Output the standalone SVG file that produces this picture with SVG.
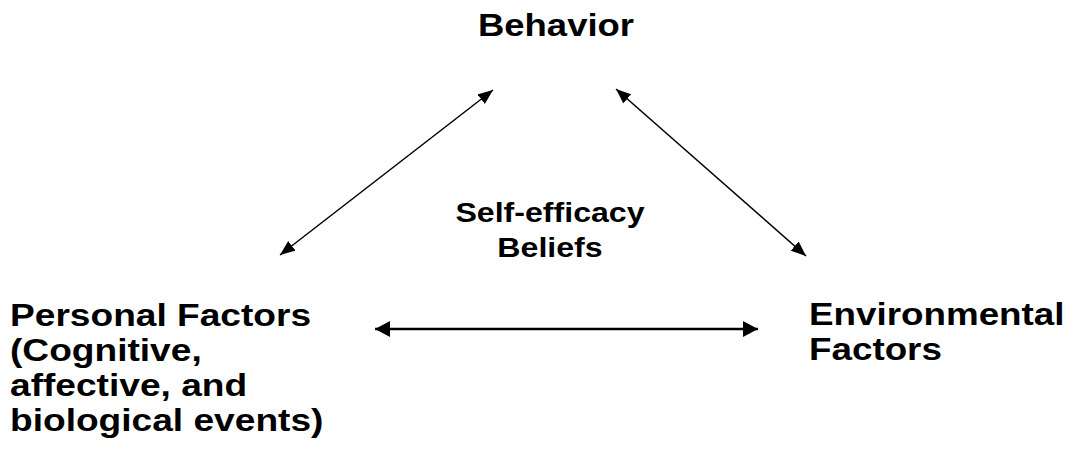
<svg xmlns="http://www.w3.org/2000/svg" width="1075" height="464" viewBox="0 0 1075 464">
<defs>
<style>
text{font-family:"Liberation Sans",Arial,sans-serif;font-weight:bold;fill:#000}
.big{font-size:32px}
.mid{font-size:27px}
.c{stroke:#000;fill:none}
</style>
<marker id="ah" markerUnits="userSpaceOnUse" markerWidth="16" markerHeight="13" refX="15" refY="6" orient="auto-start-reverse" viewBox="0 0 16 12">
<path d="M0,0 L15,6 L0,12 z" fill="#000"/>
</marker>
<marker id="ah2" markerUnits="userSpaceOnUse" markerWidth="16" markerHeight="17" refX="15" refY="8" orient="auto-start-reverse" viewBox="0 0 16 16">
<path d="M0,0 L15,8 L0,16 z" fill="#000"/>
</marker>
</defs>
<rect width="1075" height="464" fill="#fff"/>
<g id="connectors">
<line class="c" x1="493" y1="90" x2="280" y2="255" stroke-width="1.5" marker-start="url(#ah)" marker-end="url(#ah)"/>
<line class="c" x1="616" y1="89" x2="806" y2="256" stroke-width="1.5" marker-start="url(#ah)" marker-end="url(#ah)"/>
<line class="c" x1="375" y1="329" x2="758" y2="329" stroke-width="2.5" marker-start="url(#ah2)" marker-end="url(#ah2)"/>
</g>
<g id="behavior">
<text class="big" text-anchor="middle" transform="translate(556,36) scale(1.14,1)">Behavior</text>
</g>
<g id="self-efficacy">
<text class="mid" text-anchor="middle" transform="translate(550,222) scale(1.19,1)">Self-efficacy</text>
<text class="mid" text-anchor="middle" transform="translate(550,257) scale(1.19,1)">Beliefs</text>
</g>
<g id="personal">
<text class="big" transform="translate(10,326) scale(1.16,1)">Personal Factors</text>
<text class="big" transform="translate(10,361) scale(1.16,1)">(Cognitive,</text>
<text class="big" transform="translate(10,396) scale(1.16,1)">affective, and</text>
<text class="big" transform="translate(10,431) scale(1.16,1)">biological events)</text>
</g>
<g id="environmental">
<text class="big" transform="translate(809,325) scale(1.15,1)">Environmental</text>
<text class="big" transform="translate(809,360) scale(1.15,1)">Factors</text>
</g>
</svg>
